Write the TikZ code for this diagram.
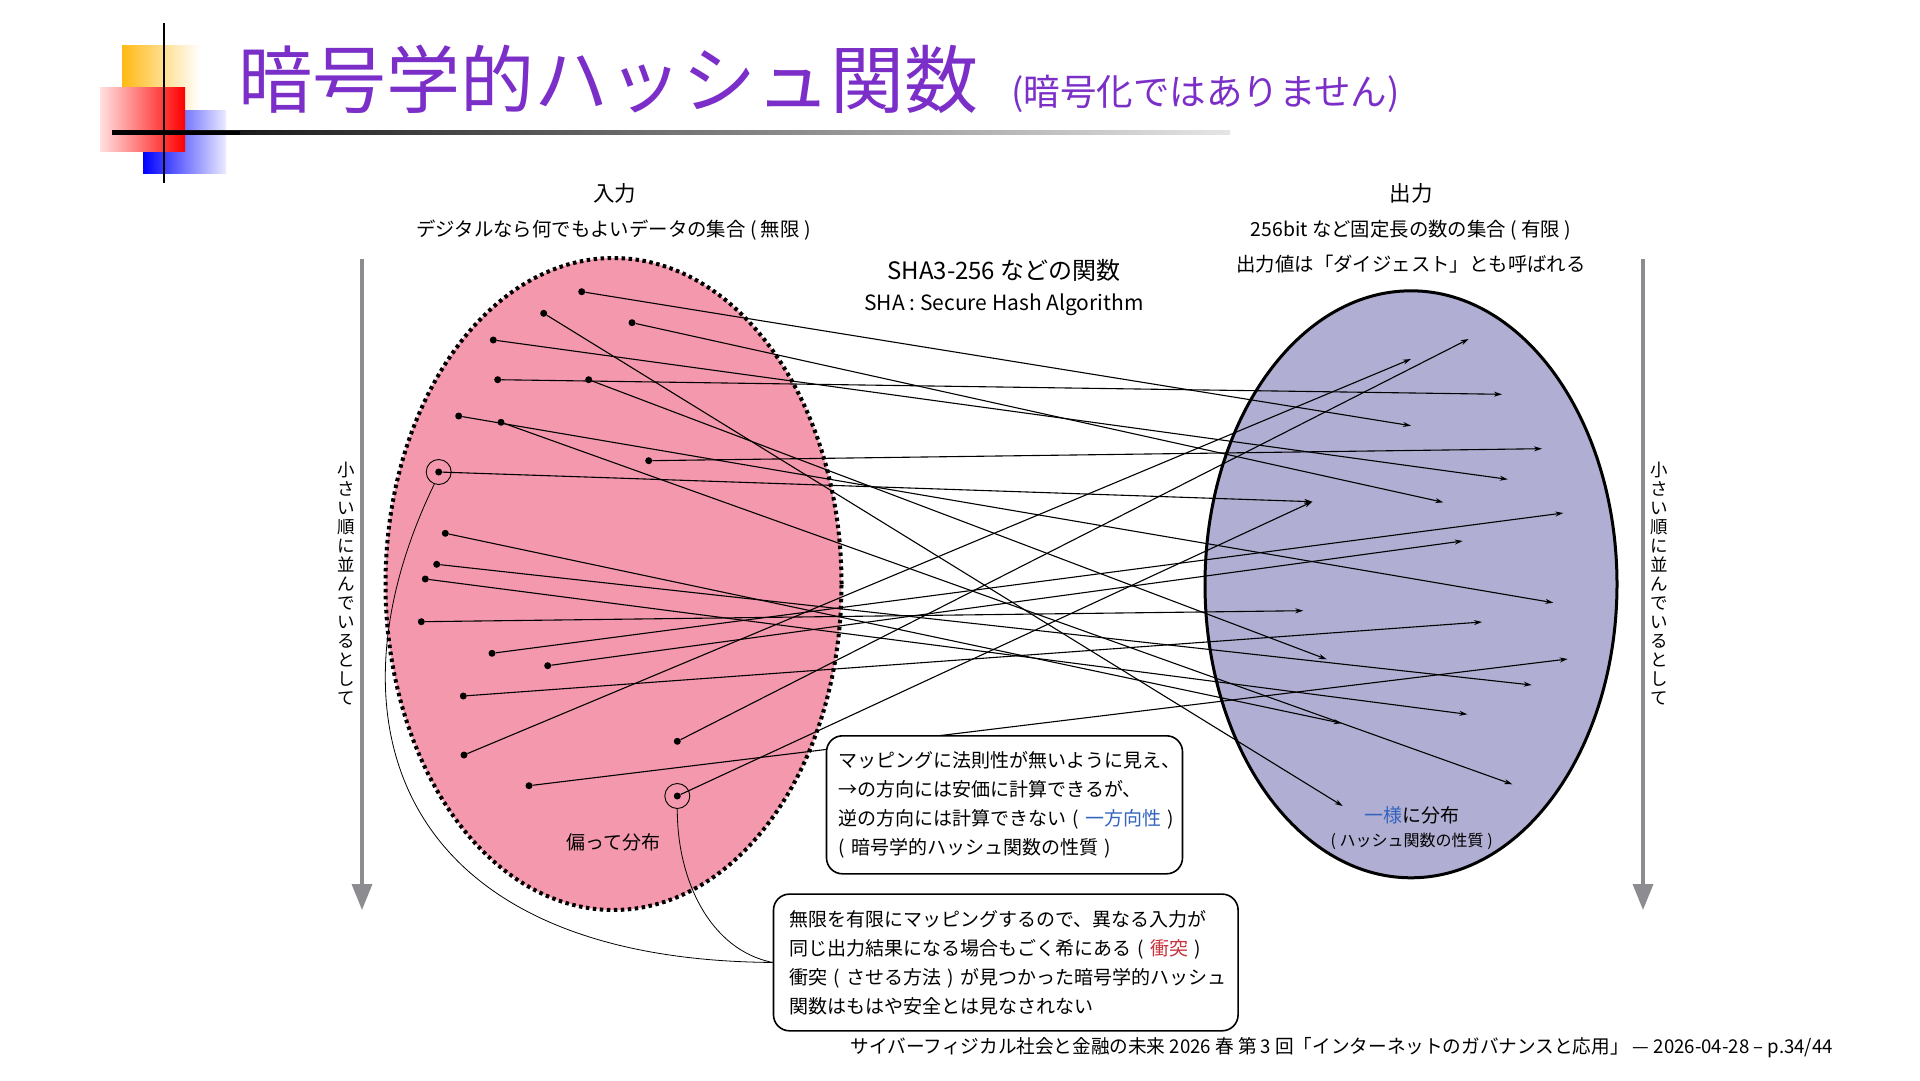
\documentclass[tikz,border=0pt]{standalone}
\usepackage{fontspec}
\usepackage{graphicx}
\setmainfont{Noto Sans CJK JP}
\usetikzlibrary{arrows.meta,shapes.geometric}
\definecolor{titlec}{RGB}{123,47,200}
\definecolor{pinkc}{RGB}{244,152,173}
\definecolor{lavc}{RGB}{176,174,210}
\definecolor{arrgray}{RGB}{140,140,145}
\definecolor{bluc}{RGB}{50,100,190}
\definecolor{redc}{RGB}{200,50,60}
\newcommand\setfs[2]{\fontsize{#1}{#2}\selectfont}
\begin{document}
\begin{tikzpicture}[x=1pt,y=-1pt,
  lbl/.style={inner sep=0pt},
  dotn/.style={circle,fill=black,inner sep=0pt,minimum size=7pt},
  arr/.style={line width=1.1pt,-{Stealth[length=8pt,width=5pt]}},
  ring/.style={circle,draw,line width=0.9pt,minimum size=25pt,inner sep=0pt},
  boxn/.style={draw,line width=1.6pt,rounded corners=16pt,fill=white,align=left,inner ysep=0pt,font=\setfs{19}{29}},
  bigarr/.style={line width=3.5pt,draw=arrgray,-{Triangle[length=26pt,width=20pt,color=arrgray]}},
  vtext/.style={inner sep=0pt,align=center,font=\setfs{17.5}{19}},
  curvel/.style={line width=0.8pt}]
\useasboundingbox (0,0) rectangle (1920,1081);
\fill[white] (0,0) rectangle (1920,1081);
% header decoration
\shade[left color={rgb,255:red,255;green,185;blue,20},right color=white] (122,46) rectangle (200,118);
\shade[left color=blue,right color=blue!8] (143,110) rectangle (226,173);
\shade[left color=red!12,right color=red] (100,88) rectangle (185,151);
\shade[left color=black,right color=black!10] (112,130.5) rectangle (1230,134.5);
\fill[black] (112,130.5) rectangle (240,134.5);
\draw[line width=2pt] (163.5,23) -- (163.5,183);
\node[lbl,anchor=west,text=titlec,font=\setfs{74}{80}] (title) at (238,79) {暗号学的ハッシュ関数};
\node[lbl,anchor=west,text=titlec,font=\setfs{36.5}{40}] (subtitle) at (1011,94) {(暗号化ではありません)};
% side arrows
\coordinate (la1) at (362,259); \coordinate (la2) at (362,910);
\coordinate (ra1) at (1643,259); \coordinate (ra2) at (1643,910);
\draw[bigarr] (la1) -- (la2);
\draw[bigarr] (ra1) -- (ra2);
\node[vtext] (vl) at (346.5,584) {小\\さ\\い\\順\\に\\並\\ん\\で\\い\\る\\と\\し\\て};
\node[vtext] (vr) at (1659,584) {小\\さ\\い\\順\\に\\並\\ん\\で\\い\\る\\と\\し\\て};
% ellipses
\node[ellipse,draw,fill=pinkc,line width=4pt,dash pattern=on 3.5pt off 3.5pt,minimum width=456pt,minimum height=652pt,inner sep=0pt] (inset) at (613.5,584) {};
\node[ellipse,draw,fill=lavc,line width=3pt,minimum width=412pt,minimum height=587pt,inner sep=0pt] (outset) at (1411,584.3) {};
% labels
\node[lbl,font=\setfs{21.5}{24}] (inlbl) at (614.5,193.5) {入力};
\node[lbl,font=\setfs{19.4}{22}] (indesc) at (613.5,230) {デジタルなら何でもよいデータの集合 ( 無限 )};
\node[lbl,font=\setfs{21.5}{24}] (outlbl) at (1411,193.5) {出力};
\node[lbl,font=\setfs{19.4}{22}] (outdesc) at (1411,230) {256bit など固定長の数の集合 ( 有限 )};
\node[lbl,font=\setfs{19.4}{22}] (outdesc2) at (1411,264.5) {出力値は「ダイジェスト」とも呼ばれる};
\node[lbl,font=\setfs{24}{26}] (fn) at (1004,270.6) {SHA3-256 などの関数};
\node[lbl,font=\setfs{21}{24}] (fn2) at (1004,305) {SHA : Secure Hash Algorithm};
\node[lbl,font=\setfs{19}{22}] (biased) at (613.5,842.5) {偏って分布};
\node[lbl,font=\setfs{19}{22}] (uniform) at (1411.7,815) {\textcolor{bluc}{一様}に分布};
\node[lbl,font=\setfs{16}{18}] (uniform2) at (1411.7,841) {( ハッシュ関数の性質 )};
% start dots
\node[dotn] (A) at (581.7,291.7) {};
\node[dotn] (B) at (543.7,313.3) {};
\node[dotn] (C) at (632,322.7) {};
\node[dotn] (D) at (493.3,340) {};
\node[dotn] (E) at (497.7,379.7) {};
\node[dotn] (F) at (588.7,379.7) {};
\node[dotn] (G) at (458.7,416) {};
\node[dotn] (H) at (501,422.3) {};
\node[dotn] (I) at (648.7,460.7) {};
\node[dotn] (J) at (438.7,472) {};
\node[dotn] (K) at (445.3,533.3) {};
\node[dotn] (L) at (436.7,564.3) {};
\node[dotn] (M) at (425.3,579) {};
\node[dotn] (N) at (421.3,621.7) {};
\node[dotn] (O) at (492,653.3) {};
\node[dotn] (P) at (547.7,665.7) {};
\node[dotn] (Q) at (463.3,696) {};
\node[dotn] (R) at (677.3,741.3) {};
\node[dotn] (S) at (464,755) {};
\node[dotn] (T) at (529,785.7) {};
\node[dotn] (U) at (677.3,796) {};
\node[ring] (cJ) at (438.7,472) {};
\node[ring] (cU) at (677.3,796) {};
% end points
\coordinate (t1) at (1468.7,339);
\coordinate (t2) at (1411,359);
\coordinate (t3) at (1502,394.3);
\coordinate (t4) at (1411,425.7);
\coordinate (t5) at (1542,448.7);
\coordinate (t6) at (1507.7,479.3);
\coordinate (t7) at (1443.3,502.3);
\coordinate (t8) at (1312.3,501.7);
\coordinate (t9) at (1563.3,513);
\coordinate (t10) at (1462.7,541);
\coordinate (t11) at (1553.3,602.7);
\coordinate (t12) at (1303.3,610.7);
\coordinate (t13) at (1482,622);
\coordinate (t14) at (1326.7,659.3);
\coordinate (t15) at (1567.7,659);
\coordinate (t16) at (1531.7,685);
\coordinate (t17) at (1467.3,714.3);
\coordinate (t18) at (1341.7,723.3);
\coordinate (t19) at (1512.3,784.3);
\coordinate (t20) at (1342.7,806);
% mapping
\draw[arr] (A) -- (t4);
\draw[arr] (B) -- (t20);
\draw[arr] (C) -- (t7);
\draw[arr] (D) -- (t6);
\draw[arr] (E) -- (t3);
\draw[arr] (F) -- (t14);
\draw[arr] (G) -- (t11);
\draw[arr] (H) -- (t19);
\draw[arr] (I) -- (t5);
\draw[arr] (J) -- (t8);
\draw[arr] (K) -- (t18);
\draw[arr] (L) -- (t16);
\draw[arr] (M) -- (t17);
\draw[arr] (N) -- (t12);
\draw[arr] (O) -- (t9);
\draw[arr] (P) -- (t10);
\draw[arr] (Q) -- (t13);
\draw[arr] (R) -- (t1);
\draw[arr] (S) -- (t2);
\draw[arr] (T) -- (t15);
\draw[arr] (U) -- (t8);
% boxes
\node[boxn,anchor=north west,minimum width=356pt,minimum height=138pt,inner xsep=12pt,text width=332pt] (box1) at (825.7,735) {\mbox{マッピングに法則性が無いように見え、}\\\mbox{→の方向には安価に計算できるが、}\\\mbox{逆の方向には計算できない ( \textcolor{bluc}{一方向性} )}\\\mbox{( 暗号学的ハッシュ関数の性質 )}};
\node[boxn,anchor=north west,minimum width=464.6pt,minimum height=136.7pt,inner xsep=15.6pt,text width=433.4pt] (box2) at (772.7,893.3) {\mbox{無限を有限にマッピングするので、異なる入力が}\\\mbox{同じ出力結果になる場合もごく希にある ( \textcolor{redc}{衝突} )}\\\mbox{衝突 ( させる方法 ) が見つかった暗号学的ハッシュ}\\\mbox{関数はもはや安全とは見なされない}};
% collision curves
\draw[curvel] (cJ.250) .. controls (320,720) and (395,960) .. (box2.west);
\draw[curvel] (cU.south) .. controls (677,880) and (710,950) .. (box2.west);
% footer
\node[lbl,anchor=east,font=\setfs{19}{22}] (footer) at (1833,1048) {\scalebox{0.98}[1]{サイバーフィジカル社会と金融の未来 2026 春 第 3 回「インターネットのガバナンスと応用」 — 2026-04-28 – p.34/44}};
\end{tikzpicture}
\end{document}
